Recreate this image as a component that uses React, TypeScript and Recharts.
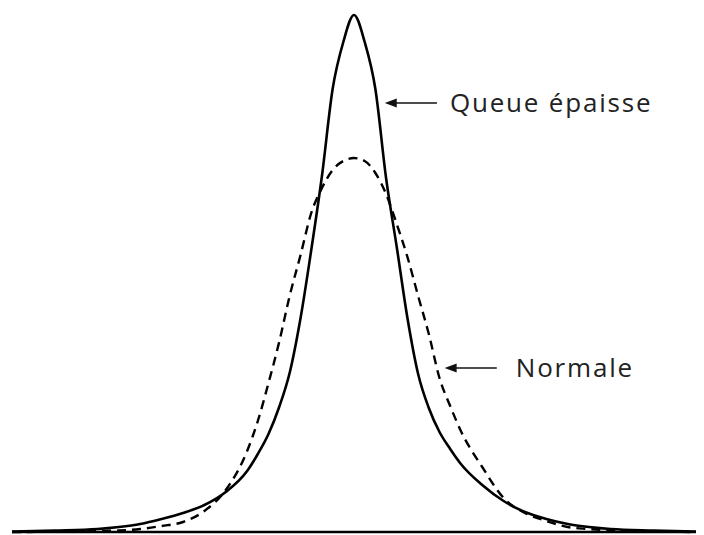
import React from 'react';
import { LineChart, Line, XAxis, YAxis, ReferenceLine } from 'recharts';

// x positions (in std-dev-like units) and curve heights
const xs = [
  -4, -3.5, -3, -2.75, -2.5, -2.25, -2, -1.75, -1.5, -1.25, -1.125, -1, -0.875, -0.75, -0.625, -0.5, -0.375, -0.25, -0.125,
  0,
  0.125, 0.25, 0.375, 0.5, 0.625, 0.75, 0.875, 1, 1.125, 1.25, 1.5, 1.75, 2, 2.25, 2.5, 2.75, 3, 3.5, 4,
];
const fatTail = [
  0.5, 1.5, 3, 5, 8, 13, 19, 27, 40, 61, 78, 98, 125, 160, 214, 282, 356, 443, 490,
  517,
  490, 443, 354, 285, 214, 158, 124, 100, 83, 68, 47, 31, 20, 13, 8, 5, 3, 1.5, 0.5,
];
const normal = [
  0, 0.3, 1, 1.5, 3, 6, 10, 21, 42, 81, 111, 149, 190, 237, 277, 319, 344, 362, 371,
  374,
  371, 359, 338, 308, 275, 236, 198, 154, 126, 101, 65, 34, 19, 11, 5, 3, 1.5, 0.5, 0,
];

const labels = ['Queue épaisse', 'Normale'];

const data = xs.map((x, i) => ({ x, fat: fatTail[i], normal: normal[i] }));

const Arrow = (props: any) => {
  const { x1, y1, x2, y2, text, gap } = props;
  // x1 is the tail (label side), x2 the head
  const head = 10;
  return (
    <g>
      <line x1={x1} y1={y1} x2={x2 + head} y2={y2} stroke="#111" strokeWidth={1.6} />
      <polygon points={`${x2},${y2} ${x2 + head + 2},${y2 - 4.5} ${x2 + head + 2},${y2 + 4.5}`} fill="#111" />
      <text x={x1 + gap} y={y1 + 9} fontSize={26} fill="#222" fontFamily="'Open Sans', sans-serif" letterSpacing={1.8}>
        {text}
      </text>
    </g>
  );
};

const App: React.FC = () => {
  return (
    <div style={{ position: 'absolute', left: 0, top: 0, background: '#fff' }}>
      <LineChart width={704} height={535} data={data} margin={{ top: 12, right: 8, bottom: 3, left: 12 }}>
        <XAxis dataKey="x" type="number" domain={[-4, 4]} hide />
        <YAxis type="number" domain={[0, 520]} hide />
        <ReferenceLine y={0} stroke="#000" strokeWidth={2.5} />
        <Line
          dataKey="normal"
          type="monotone"
          stroke="#000"
          strokeWidth={2.4}
          strokeDasharray="9 6"
          dot={false}
          isAnimationActive={false}
        />
        <Line dataKey="fat" type="monotone" stroke="#000" strokeWidth={2.6} dot={false} isAnimationActive={false} />
        <ReferenceLine
          segment={[{ x: 0.97, y: 429 }, { x: 0.36, y: 429 }]}
          shape={(p: any) => <Arrow {...p} text={labels[0]} gap={13} />}
        />
        <ReferenceLine
          segment={[{ x: 1.67, y: 164 }, { x: 1.06, y: 164 }]}
          shape={(p: any) => <Arrow {...p} text={labels[1]} gap={19} />}
        />
      </LineChart>
    </div>
  );
};

export default App;
